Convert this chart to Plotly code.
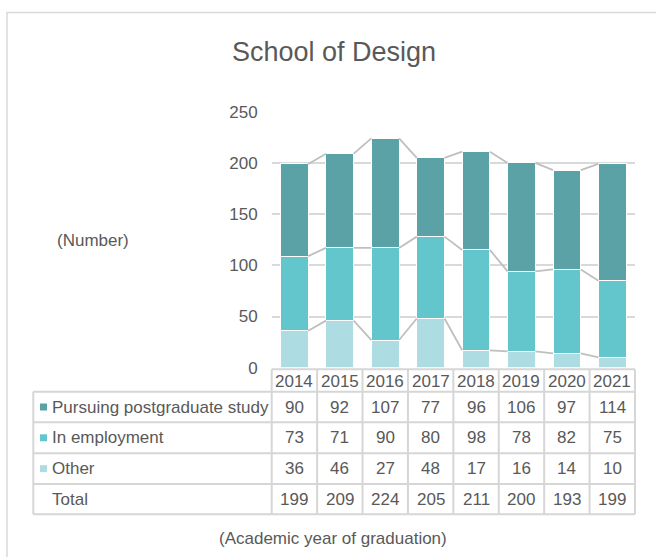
import plotly.graph_objects as go

years = ["2014", "2015", "2016", "2017", "2018", "2019", "2020", "2021"]
series_names = ["Pursuing postgraduate study", "In employment", "Other"]
postgrad = [90, 92, 107, 77, 96, 106, 97, 114]
employment = [73, 71, 90, 80, 98, 78, 82, 75]
other = [36, 46, 27, 48, 17, 16, 14, 10]
totals = [199, 209, 224, 205, 211, 200, 193, 199]
y_ticks = [0, 50, 100, 150, 200, 250]

colors = {"Other": "#ADDDE2", "In employment": "#62C6CC",
          "Pursuing postgraduate study": "#5AA2A6"}
W, H = 656, 557
FONT = "Arial, Liberation Sans, sans-serif"
TXT = "#595959"
GRID = "#D9D9D9"
BAR_W = 0.61


def px(x):
    return x / W


def py(y):
    return 1 - y / H


PL, PR = 271.7, 635.0
PT, PB = 111.7, 367.7

fig = go.Figure()

x_idx = list(range(len(years)))
stack_order = [("Other", other), ("In employment", employment),
               ("Pursuing postgraduate study", postgrad)]

cum = [0] * len(years)
for name, vals in stack_order:
    cum = [c + v for c, v in zip(cum, vals)]
    lx, ly = [], []
    for i in range(len(years) - 1):
        lx += [i + BAR_W / 2, i + 1 - BAR_W / 2, None]
        ly += [cum[i], cum[i + 1], None]
    fig.add_trace(go.Scatter(x=lx, y=ly, mode="lines",
                             line=dict(color="#BFBFBF", width=1.8),
                             hoverinfo="skip", showlegend=False))

for name, vals in stack_order:
    fig.add_trace(go.Bar(x=x_idx, y=vals, name=name, width=BAR_W,
                         marker=dict(color=colors[name],
                                     line=dict(color="white", width=1)),
                         showlegend=False))

fig.update_layout(
    width=W, height=H, barmode="stack",
    margin=dict(l=0, r=0, t=0, b=0, pad=0),
    paper_bgcolor="white", plot_bgcolor="white",
    font=dict(family=FONT, color=TXT, size=17),
    xaxis=dict(domain=[px(PL), px(PR)], range=[-0.5, len(years) - 0.5],
               showticklabels=False, showgrid=False, zeroline=False,
               showline=False, ticks="", automargin=False),
    yaxis=dict(domain=[py(PB), py(PT)], range=[0, 250], tickvals=y_ticks,
               showgrid=True, gridcolor=GRID, gridwidth=2,
               zeroline=False, showline=False, ticks="",
               ticklabelstandoff=13, automargin=False,
               tickfont=dict(size=17, color=TXT, family=FONT)),
)

shapes = []
LINE = dict(color="#D6D6D6", width=2)
shapes.append(dict(type="rect", xref="paper", yref="paper",
                   x0=px(7), x1=px(700), y0=py(620), y1=py(12.5),
                   line=dict(color="#D9D9D9", width=1.5)))
HT = 369.3
rows_y = [391.7, 422.3, 453.3, 484.0, 514.3]
TL = 33.3
col_w = (PR - PL) / len(years)
shapes.append(dict(type="line", xref="paper", yref="paper",
                   x0=px(PL), x1=px(PR), y0=py(HT), y1=py(HT), line=LINE))
for ry in rows_y:
    shapes.append(dict(type="line", xref="paper", yref="paper",
                       x0=px(TL), x1=px(PR), y0=py(ry), y1=py(ry), line=LINE))
shapes.append(dict(type="line", xref="paper", yref="paper",
                   x0=px(TL), x1=px(TL), y0=py(rows_y[0]), y1=py(rows_y[-1]),
                   line=LINE))
for k in range(len(years) + 1):
    xx = PL + k * col_w
    shapes.append(dict(type="line", xref="paper", yref="paper",
                       x0=px(xx), x1=px(xx), y0=py(HT), y1=py(rows_y[-1]),
                       line=LINE))

annotations = []
annotations.append(dict(text="School of Design", x=px(334), y=py(52),
                        xref="paper", yref="paper", showarrow=False,
                        font=dict(size=27, color=TXT, family=FONT),
                        xanchor="center", yanchor="middle"))
annotations.append(dict(text="(Number)", x=px(93.5), y=py(240),
                        xref="paper", yref="paper", showarrow=False,
                        font=dict(size=17, color=TXT, family=FONT),
                        xanchor="center", yanchor="middle"))
annotations.append(dict(text="(Academic year of graduation)", x=px(333),
                        y=py(538), xref="paper", yref="paper",
                        showarrow=False,
                        font=dict(size=17, color=TXT, family=FONT),
                        xanchor="center", yanchor="middle"))

for i, yr in enumerate(years):
    annotations.append(dict(text=yr, x=i, xref="x", y=py((HT + rows_y[0]) / 2 + 0.5),
                            yref="paper", showarrow=False,
                            font=dict(size=17, color=TXT, family=FONT),
                            xanchor="center", yanchor="middle"))

table_rows = [("Pursuing postgraduate study", postgrad),
              ("In employment", employment),
              ("Other", other),
              ("Total", totals)]
for r, (label, vals) in enumerate(table_rows):
    cy = (rows_y[r] + rows_y[r + 1]) / 2
    annotations.append(dict(text=label, x=px(49.5), y=py(cy), xref="paper",
                            yref="paper", showarrow=False,
                            font=dict(size=17, color=TXT, family=FONT),
                            xanchor="left", yanchor="middle"))
    if label in colors:
        shapes.append(dict(type="rect", xref="paper", yref="paper",
                           x0=px(40), x1=px(47), y0=py(cy + 3.5),
                           y1=py(cy - 3.5), fillcolor=colors[label],
                           line=dict(width=0)))
    for i, v in enumerate(vals):
        annotations.append(dict(text=str(v), x=i, xref="x", y=py(cy),
                                yref="paper", showarrow=False,
                                font=dict(size=17, color=TXT, family=FONT),
                                xanchor="center", yanchor="middle"))

fig.update_layout(shapes=shapes, annotations=annotations)
fig.write_html("out.html", config={"displayModeBar": False},
               post_script="document.body.style.margin='0';"
                           "document.body.style.overflow='hidden';")
